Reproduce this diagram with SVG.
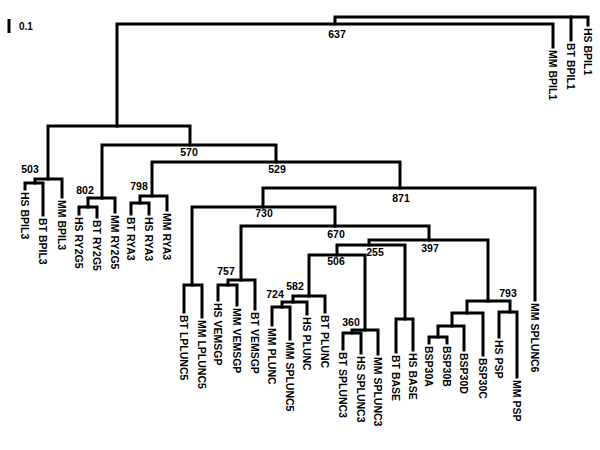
<svg xmlns="http://www.w3.org/2000/svg" width="600" height="450" viewBox="0 0 600 450">
<style>
.c path{fill:none;stroke:#000;stroke-width:3;stroke-linecap:square;stroke-linejoin:miter}
text{font-family:"Liberation Sans",Arial,sans-serif;font-weight:bold;fill:#000}
.lf{font-size:10.5px}
.bs{font-size:10.5px;text-anchor:middle}
</style>
<rect width="600" height="450" fill="#fff"/>
<g id="scale">
<line x1="9" y1="19" x2="9" y2="33" stroke="#000" stroke-width="3"/>
<text x="19" y="30" style="font-size:10px">0.1</text>
</g>
<g class="c" id="connectors">
<path d="M117,126 V24 H553 V47"/>
<path d="M335,24 V17 H588 V25"/>
<path d="M571,17 V40"/>
<path d="M48,179 V126 H190 V145"/>
<path d="M62,197 V179 H35 V183"/>
<path d="M25,189 V183 H43 V215"/>
<path d="M102,198 V145 H276 V162"/>
<path d="M115,212 V198 H88 V207"/>
<path d="M79,214 V207 H97 V217"/>
<path d="M152,196 V162 H400 V188"/>
<path d="M167,210 V196 H140 V203"/>
<path d="M131,214 V203 H149 V214"/>
<path d="M263,207 V188 H535 V300"/>
<path d="M192,285 V207 H335 V226"/>
<path d="M184,312 V285 H202 V317"/>
<path d="M241,280 V226 H429 V240"/>
<path d="M255,309 V280 H228 V285"/>
<path d="M218,300 V285 H237 V305"/>
<path d="M369,245 V240 H488 V301"/>
<path d="M337,255 V245 H405 V319"/>
<path d="M309,296 V255 H365 V330"/>
<path d="M325,312 V296 H293 V302"/>
<path d="M307,314 V302 H282 V307"/>
<path d="M272,325 V307 H290 V339"/>
<path d="M378,354 V330 H352 V333"/>
<path d="M343,349 V333 H361 V353"/>
<path d="M396,352 V319 H413 V350"/>
<path d="M467,313 V301 H510 V312"/>
<path d="M499,337 V312 H517 V377"/>
<path d="M483,355 V313 H452 V326"/>
<path d="M464,350 V326 H438 V337"/>
<path d="M429,343 V337 H447 V343"/>
</g>
<g id="bootstrap">
<g id="n637"><text class="bs" x="337" y="38">637</text></g>
<g id="n503"><text class="bs" x="30" y="173">503</text></g>
<g id="n570"><text class="bs" x="189" y="156">570</text></g>
<g id="n529"><text class="bs" x="277" y="173">529</text></g>
<g id="n802"><text class="bs" x="85" y="194">802</text></g>
<g id="n798"><text class="bs" x="139" y="190">798</text></g>
<g id="n871"><text class="bs" x="401" y="202">871</text></g>
<g id="n730"><text class="bs" x="264" y="217">730</text></g>
<g id="n670"><text class="bs" x="336" y="238">670</text></g>
<g id="n397"><text class="bs" x="430" y="252">397</text></g>
<g id="n255"><text class="bs" x="375" y="256">255</text></g>
<g id="n506"><text class="bs" x="336" y="265">506</text></g>
<g id="n757"><text class="bs" x="226" y="275">757</text></g>
<g id="n582"><text class="bs" x="295" y="290">582</text></g>
<g id="n724"><text class="bs" x="275" y="298">724</text></g>
<g id="n360"><text class="bs" x="351" y="326">360</text></g>
<g id="n793"><text class="bs" x="508" y="297">793</text></g>
</g>
<g id="leaves">
<g id="hs_bpil1"><text class="lf" transform="translate(584,28) rotate(90)">HS BPIL1</text></g>
<g id="bt_bpil1"><text class="lf" transform="translate(567,43) rotate(90)">BT BPIL1</text></g>
<g id="mm_bpil1"><text class="lf" transform="translate(549,50) rotate(90)">MM BPIL1</text></g>
<g id="hs_bpil3"><text class="lf" transform="translate(21,192) rotate(90)">HS BPIL3</text></g>
<g id="bt_bpil3"><text class="lf" transform="translate(39,218) rotate(90)">BT BPIL3</text></g>
<g id="mm_bpil3"><text class="lf" transform="translate(58,200) rotate(90)">MM BPIL3</text></g>
<g id="hs_ry2g5"><text class="lf" transform="translate(75,217) rotate(90)">HS RY2G5</text></g>
<g id="bt_ry2g5"><text class="lf" transform="translate(93,220) rotate(90)">BT RY2G5</text></g>
<g id="mm_ry2g5"><text class="lf" transform="translate(111,215) rotate(90)">MM RY2G5</text></g>
<g id="bt_rya3"><text class="lf" transform="translate(127,217) rotate(90)">BT RYA3</text></g>
<g id="hs_rya3"><text class="lf" transform="translate(145,217) rotate(90)">HS RYA3</text></g>
<g id="mm_rya3"><text class="lf" transform="translate(163,213) rotate(90)">MM RYA3</text></g>
<g id="bt_lplunc5"><text class="lf" transform="translate(180,315) rotate(90)">BT LPLUNC5</text></g>
<g id="mm_lplunc5"><text class="lf" transform="translate(198,320) rotate(90)">MM LPLUNC5</text></g>
<g id="hs_vemsgp"><text class="lf" transform="translate(214,303) rotate(90)">HS VEMSGP</text></g>
<g id="mm_vemsgp"><text class="lf" transform="translate(233,308) rotate(90)">MM VEMSGP</text></g>
<g id="bt_vemsgp"><text class="lf" transform="translate(251,312) rotate(90)">BT VEMSGP</text></g>
<g id="mm_plunc"><text class="lf" transform="translate(268,328) rotate(90)">MM PLUNC</text></g>
<g id="mm_splunc5"><text class="lf" transform="translate(286,342) rotate(90)">MM SPLUNC5</text></g>
<g id="hs_plunc"><text class="lf" transform="translate(303,317) rotate(90)">HS PLUNC</text></g>
<g id="bt_plunc"><text class="lf" transform="translate(321,315) rotate(90)">BT PLUNC</text></g>
<g id="bt_splunc3"><text class="lf" transform="translate(339,352) rotate(90)">BT SPLUNC3</text></g>
<g id="hs_splunc3"><text class="lf" transform="translate(357,356) rotate(90)">HS SPLUNC3</text></g>
<g id="mm_splunc3"><text class="lf" transform="translate(374,357) rotate(90)">MM SPLUNC3</text></g>
<g id="bt_base"><text class="lf" transform="translate(392,355) rotate(90)">BT BASE</text></g>
<g id="hs_base"><text class="lf" transform="translate(409,353) rotate(90)">HS BASE</text></g>
<g id="bsp30a"><text class="lf" transform="translate(425,346) rotate(90)">BSP30A</text></g>
<g id="bsp30b"><text class="lf" transform="translate(443,346) rotate(90)">BSP30B</text></g>
<g id="bsp30d"><text class="lf" transform="translate(460,353) rotate(90)">BSP30D</text></g>
<g id="bsp30c"><text class="lf" transform="translate(479,358) rotate(90)">BSP30C</text></g>
<g id="hs_psp"><text class="lf" transform="translate(495,340) rotate(90)">HS PSP</text></g>
<g id="mm_psp"><text class="lf" transform="translate(513,380) rotate(90)">MM PSP</text></g>
<g id="mm_splunc6"><text class="lf" transform="translate(531,303) rotate(90)">MM SPLUNC6</text></g>
</g>
</svg>
